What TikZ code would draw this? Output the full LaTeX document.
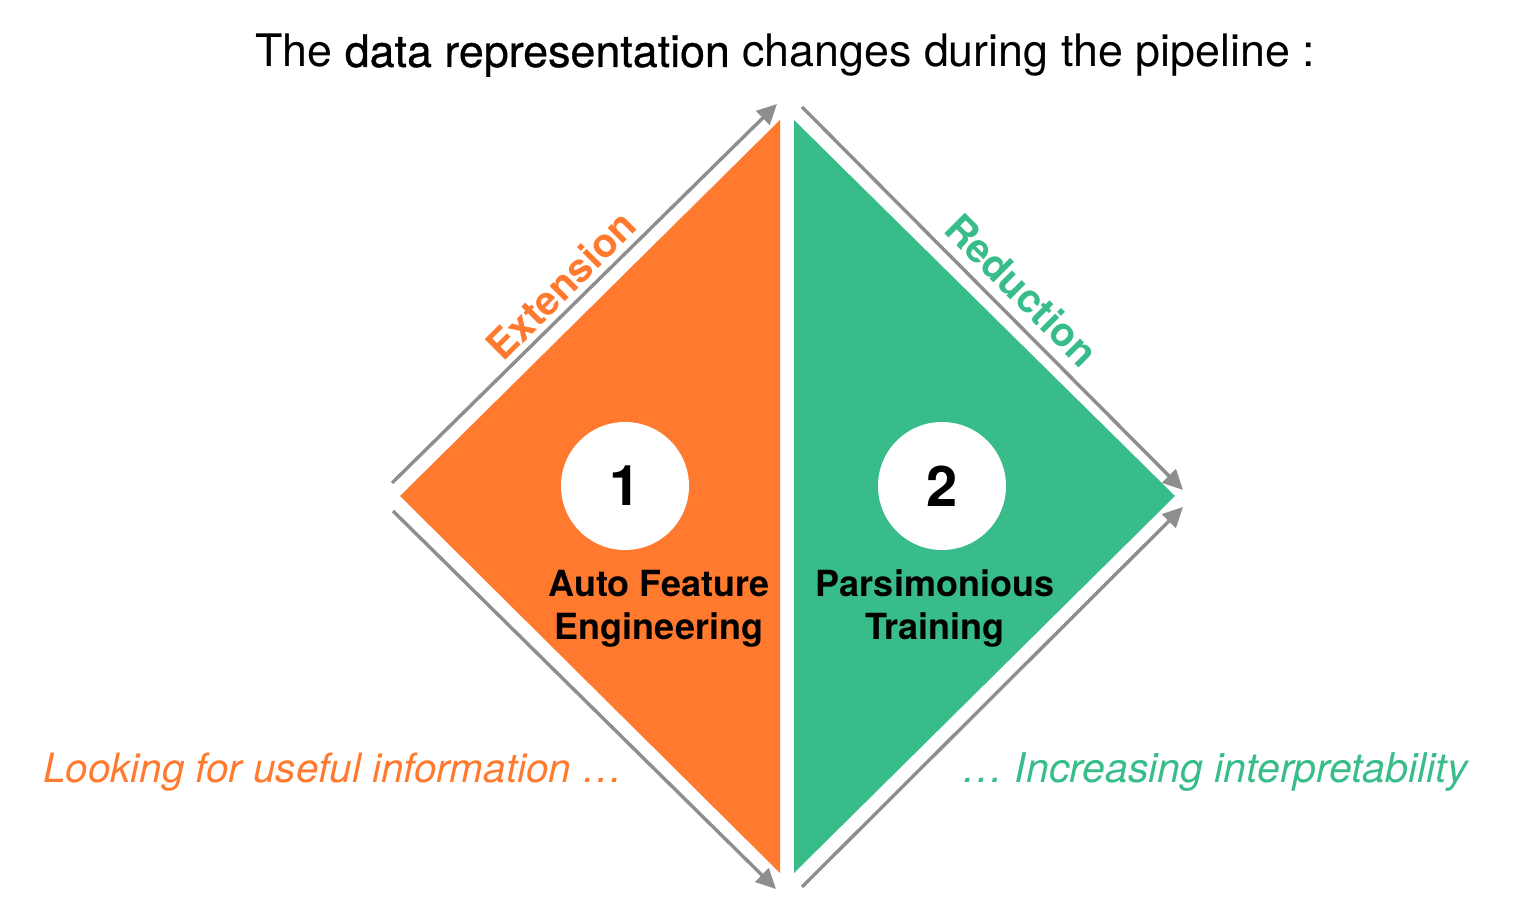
\documentclass[tikz,border=0pt]{standalone}
\usepackage{fontspec}
\setmainfont{TeX Gyre Heros}
\newfontfamily\medfont{TeX Gyre Heros}[FakeBold=0.7]
\usepackage{tikz}
\usetikzlibrary{
  arrows.meta,
  positioning
}
\definecolor{extorange}{HTML}{FF7A2F}
\definecolor{redgreen}{HTML}{38BC8A}
\definecolor{flowgray}{HTML}{8E8E8E}
\tikzset{>={Triangle[length=10pt,width=9.5pt]}}

\begin{document}
\begin{tikzpicture}[x=0.5pt, y=-0.5pt,
  flow/.style = {draw=flowgray, line width=1.7pt, ->},
  num/.style = {circle, fill=white, minimum size=64pt, inner sep=0pt, font=\fontsize{28}{28}\selectfont\bfseries},
  stage/.style = {align=center, inner sep=0pt, font=\fontsize{18}{21.5}\selectfont\bfseries},
  side/.style = {inner sep=0pt, font=\fontsize{20}{24}\selectfont\bfseries},
  note/.style = {inner sep=0pt, font=\fontsize{20.5}{24}\selectfont\itshape}]
				\useasboundingbox (0,0) rectangle (1517,913);

				% shapes
				\fill[extorange] (400,496) -- (780,120) -- (780,873) -- cycle;
				\fill[redgreen] (794,120) -- (1175,496) -- (794,873) -- cycle;

				% nodes
				\node[inner sep=0pt, anchor=base, font=\fontsize{22.4}{26}\selectfont] (title) at (785,67) {The {\medfont data representation} changes during the pipeline :};

				\node[num] (one) at (625,486) {1};
				\node[num] (two) at (942,486) {2};
				\node[stage] (afe) at (659,609) {Auto Feature\\Engineering};
				\node[stage] (pt) at (935,609) {Parsimonious\\Training};

				\node[side, text=extorange, rotate=45] (ext) at (561,285) {Extension};
				\node[side, text=redgreen, rotate=-45] (red) at (1022,290) {Reduction};

				\node[note, text=extorange, anchor=base, font=\fontsize{20.2}{24}\selectfont\itshape] (look) at (333,783) {Looking for useful information …};
				\node[note, text=redgreen, anchor=base] (incr) at (1215,783) {… Increasing interpretability};

				% connections
				\coordinate (ulA) at (392,483);
				\coordinate (ulB) at (777,104);
				\coordinate (llA) at (393,511);
				\coordinate (llB) at (776,889);
				\coordinate (urA) at (802,107);
				\coordinate (urB) at (1183,490);
				\coordinate (lrA) at (802,887);
				\coordinate (lrB) at (1183,507);
				\draw[flow] (ulA) -- (ulB);
				\draw[flow] (llA) -- (llB);
				\draw[flow] (urA) -- (urB);
				\draw[flow] (lrA) -- (lrB);
			\end{tikzpicture}
\end{document}
